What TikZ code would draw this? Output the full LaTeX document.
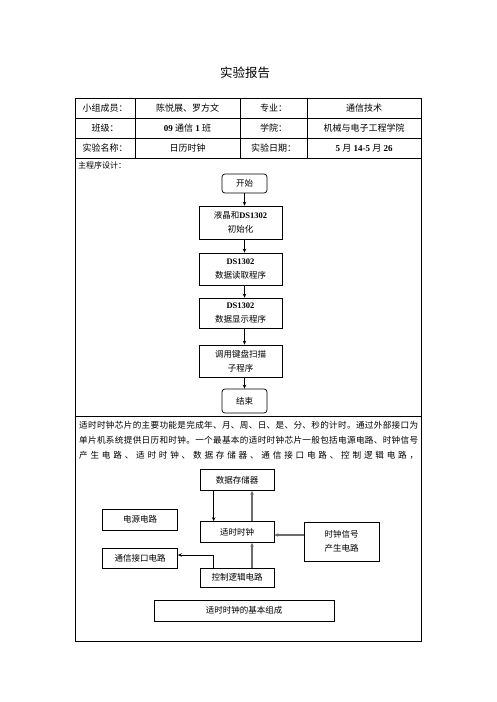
\documentclass[tikz,border=0pt]{standalone}
\usepackage{fontspec}
\setmainfont{Liberation Serif}
\newfontfamily\cjk{Noto Sans CJK SC}
\usetikzlibrary{arrows.meta}
\newcommand\spreadtxt[1]{\makebox[339pt][s]{\spaceskip=0pt plus 1fil\xspaceskip=0pt plus 1fil\relax\cjk #1}}
\tikzset{
  cell/.style={inner sep=0pt, font=\fontsize{9}{11}\selectfont},
  fbox/.style={draw, line width=0.7pt, minimum width=83pt, align=center, inner sep=0pt, font=\fontsize{8.5}{14}\selectfont},
  rbox/.style={draw, line width=0.7pt, rounded corners=3pt, minimum width=45pt, inner sep=0pt, font=\fontsize{8.5}{12}\selectfont},
  dbox/.style={draw, line width=0.7pt, minimum width=74pt, minimum height=20pt, align=center, inner sep=0pt, font=\fontsize{8.5}{14}\selectfont},
  arr/.style={-{Stealth[length=4pt,width=3.5pt]}, line width=0.7pt},
  garr/.style={-{Stealth[length=4pt,width=3.5pt]}, line width=1.2pt, draw=gray!85!black},
  para/.style={anchor=west, inner sep=0pt, font=\fontsize{8.6}{11}\selectfont}
}
\begin{document}
\begin{tikzpicture}[x=1pt,y=-1pt]
\useasboundingbox[fill=white] (0,0) rectangle (496,702);

% title
\node[inner sep=0pt, font=\fontsize{12.5}{14}\selectfont] (title) at (245,73) {\cjk 实验报告};

% table frame
\draw[line width=0.8pt] (75,98) rectangle (421,641);
\draw[line width=0.8pt] (75,118) -- (421,118) (75,138) -- (421,138) (75,158) -- (421,158) (75,416) -- (421,416);
\draw[line width=0.8pt] (135,98) -- (135,158) (240,98) -- (240,158) (307,98) -- (307,158);

% table texts
\node[cell] (c11) at (105,108) {\cjk 小组成员：};
\node[cell] (c12) at (187.5,108) {\cjk 陈悦展、罗方文};
\node[cell] (c13) at (273.5,108) {\cjk 专业：};
\node[cell] (c14) at (364,108) {\cjk 通信技术};
\node[cell] (c21) at (105,128) {\cjk 班级：};
\node[cell] (c22) at (187.5,128) {\textbf{09} {\cjk 通信} \textbf{1} {\cjk 班}};
\node[cell] (c23) at (273.5,128) {\cjk 学院：};
\node[cell] (c24) at (364,128) {\cjk 机械与电子工程学院};
\node[cell] (c31) at (105,148) {\cjk 实验名称：};
\node[cell] (c32) at (187.5,148) {\cjk 日历时钟};
\node[cell] (c33) at (273.5,148) {\cjk 实验日期：};
\node[cell] (c34) at (364,148) {\textbf{5} {\cjk 月} \textbf{14-5} {\cjk 月} \textbf{26}};
\node[cell, anchor=west, font=\fontsize{8}{10}\selectfont] (c41) at (78,165) {\cjk 主程序设计：};

% flowchart
\node[rbox, minimum height=19pt] (start) at (244.5,183.5) {\cjk 开始};
\node[fbox, minimum height=33pt] (b1) at (240.5,222.5) {{\cjk 液晶和}\textbf{DS1302}\\{\cjk 初始化}};
\node[fbox, minimum height=32pt] (b2) at (240.5,269) {\textbf{DS1302}\\{\cjk 数据读取程序}};
\node[fbox, minimum height=30pt] (b3) at (240.5,313) {\textbf{DS1302}\\{\cjk 数据显示程序}};
\node[fbox, minimum height=32pt] (b4) at (240.5,361) {{\cjk 调用键盘扫描}\\{\cjk 子程序}};
\node[rbox, minimum height=24pt] (stop) at (244.5,401) {\cjk 结束};
\draw[arr] (start.south) -- (start.south |- b1.north);
\draw[arr] (b1.south -| start.south) -- (b2.north -| start.south);
\draw[arr] (b2.south -| start.south) -- (b3.north -| start.south);
\draw[arr] (b3.south -| start.south) -- (b4.north -| start.south);
\draw[arr] (b4.south -| start.south) -- (stop.north);

% paragraph
\node[para] (p1) at (79,425) {\spreadtxt{适 时 时 钟 芯 片 的 主 要 功 能 是 完 成 年 、 月 、 周 、 日 、 是 、 分 、 秒 的 计 时 。 通 过 外 部 接 口 为}};
\node[para] (p2) at (79,440) {\spreadtxt{单 片 机 系 统 提 供 日 历 和 时 钟 。 一 个 最 基 本 的 适 时 时 钟 芯 片 一 般 包 括 电 源 电 路 、 时 钟 信 号}};
\node[para] (p3) at (79,455) {\spreadtxt{产 生 电 路 、 适 时 时 钟 、 数 据 存 储 器 、 通 信 接 口 电 路 、 控 制 逻 辑 电 路 ，}};

% block diagram
\node[dbox, minimum height=21pt] (mem) at (237,480) {\cjk 数据存储器};
\node[dbox, minimum width=75pt, minimum height=21pt] (pwr) at (140,519.5) {\cjk 电源电路};
\node[dbox, minimum height=21pt] (rtc) at (237,532) {\cjk 适时时钟};
\node[dbox, minimum width=75pt, minimum height=39pt] (clk) at (341.5,541.5) {{\cjk 时钟信号}\\{\cjk 产生电路}};
\node[dbox, minimum width=75pt, minimum height=20pt] (com) at (140,558) {\cjk 通信接口电路};
\node[dbox, minimum height=19pt] (ctl) at (237,577.5) {\cjk 控制逻辑电路};
\node[dbox, minimum width=180pt, minimum height=21pt] (cap) at (244,610.5) {\cjk 适时时钟的基本组成};

\draw[arr] ([xshift=14pt]mem.south west) -- ([xshift=14pt]rtc.north west);
\draw[garr] ([xshift=-22.3pt]rtc.north east) -- ([xshift=-22.3pt]mem.south east);
\coordinate (rtcR) at ([yshift=-3pt]rtc.east);
\draw[garr] (clk.west |- rtcR) -- (rtcR);
\draw[garr] ([xshift=-22.3pt]ctl.north east) -- ([xshift=-22.3pt]rtc.south east);
\coordinate (comR) at ([yshift=3pt]com.east);
\draw[arr] ([xshift=14pt]ctl.north west) |- (comR);
\end{tikzpicture}
\end{document}
